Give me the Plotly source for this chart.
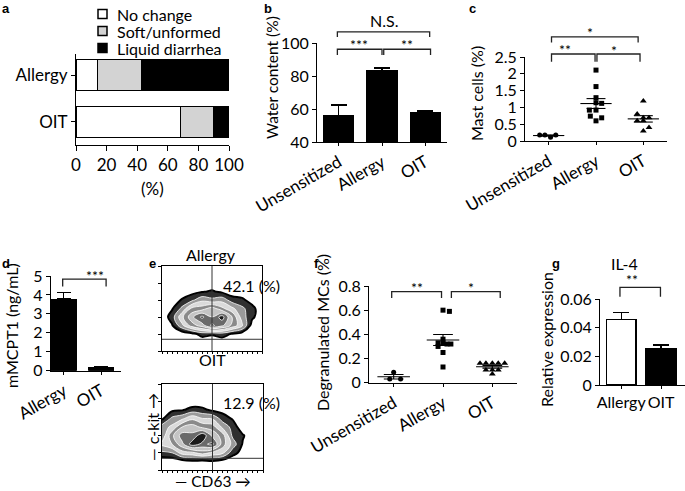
import plotly.graph_objects as go
import numpy as np

W, H = 685, 491
FONT = "Lato"

# ---------------- data ----------------
a_groups = ["Allergy", "OIT"]
a_series = ["No change", "Soft/unformed", "Liquid diarrhea"]
a_no_change = [14, 68]
a_soft = [29, 22]
a_liquid = [57, 10]
a_ticks = [0, 20, 40, 60, 80, 100]

b_groups = ["Unsensitized", "Allergy", "OIT"]
b_water = [56, 83.5, 58]
b_err = [6.4, 1.3, 0.8]

c_groups = ["Unsensitized", "Allergy", "OIT"]
c_unsens = [0.18, 0.18, 0.11, 0.18]
c_unsens_off = [-0.19, -0.08, 0.04, 0.15]
c_allergy = [2.11, 1.62, 1.29, 1.14, 1.12, 0.92, 0.92, 0.74, 0.69, 0.60]
c_allergy_off = [0, 0, 0, 0, 0.12, -0.14, 0, -0.12, 0.12, 0]
c_oit = [1.19, 0.80, 0.69, 0.69, 0.60, 0.60, 0.40, 0.30]
c_oit_off = [0, -0.13, 0, 0.12, -0.13, 0, 0.12, 0]

d_groups = ["Allergy", "OIT"]
d_mmcpt1 = [3.78, 0.16]
d_err = [0.35, 0.04]

e_grid = [0, 10, 20, 30, 40, 50, 60, 70, 80, 90, 100]
e_allergy_z = [
    [0, 0, 0, 0, 0, 0, 0, 0, 0, 0, 0],
    [0, 0, 0, 0, 0, 0, 0, 0, 0, 0, 0],
    [0, 0, 0, 0.3, 0.9, 0.7, 1.0, 0.5, 0.2, 0, 0],
    [0, 0.5, 2.0, 3.4, 4.2, 5.6, 4.8, 3.6, 2.4, 0.2, 0],
    [0, 1.0, 2.8, 4.4, 5.6, 4.6, 5.8, 3.8, 1.8, 0.8, 0],
    [0, 0.5, 1.6, 3.2, 3.4, 4.2, 3.2, 2.4, 1.6, 0.9, 0],
    [0, 0, 0.7, 1.2, 2.0, 1.6, 1.9, 1.0, 0.8, 0.2, 0],
    [0, 0, 0, 0.3, 0.5, 0.7, 0.4, 0.1, 0, 0, 0],
    [0, 0, 0, 0, 0, 0, 0, 0, 0, 0, 0],
    [0, 0, 0, 0, 0, 0, 0, 0, 0, 0, 0],
    [0, 0, 0, 0, 0, 0, 0, 0, 0, 0, 0],
]
e_oit_z = [
    [0, 0, 0, 0, 0, 0, 0, 0, 0, 0, 0],
    [0, 0, 0.2, 0.4, 0.3, 0.5, 0.2, 0, 0, 0, 0],
    [1.2, 1.4, 2.6, 2.8, 3.4, 2.8, 2.4, 0.9, 0.3, 0, 0],
    [2.4, 3.0, 4.4, 5.8, 5.2, 5.6, 3.4, 1.9, 0.5, 0, 0],
    [1.6, 3.6, 5.0, 4.8, 6.0, 4.4, 3.4, 1.2, 0.7, 0, 0],
    [1.8, 2.4, 3.8, 4.2, 3.6, 3.4, 2.0, 1.1, 0, 0, 0],
    [0.4, 1.6, 2.0, 2.8, 2.2, 2.1, 1.0, 0.5, 0, 0, 0],
    [0, 0.4, 0.5, 0.9, 0.8, 0.4, 0.3, 0, 0, 0, 0],
    [0, 0, 0, 0, 0, 0, 0, 0, 0, 0, 0],
    [0, 0, 0, 0, 0, 0, 0, 0, 0, 0, 0],
    [0, 0, 0, 0, 0, 0, 0, 0, 0, 0, 0],
]
e_gate_x = 50
e_gate_y = [13.8, 13.6]
e_labels = ["Allergy", "OIT"]
e_pct = ["42.1 (%)", "12.9 (%)"]

f_groups = ["Unsensitized", "Allergy", "OIT"]
f_unsens = [0.086, 0.03, 0.03]
f_unsens_off = [0, -0.08, 0.14]
f_allergy = [0.60, 0.59, 0.36, 0.33, 0.33, 0.32, 0.32, 0.30, 0.25, 0.13]
f_allergy_off = [0, 0.13, 0, -0.1, 0.0, 0.08, 0.16, -0.1, 0, 0]
f_oit = [0.16, 0.16, 0.16, 0.16, 0.16, 0.105, 0.105, 0.105, 0.072]
f_oit_off = [-0.25, -0.13, 0, 0.12, 0.25, -0.13, 0, 0.12, 0]

g_groups = ["Allergy", "OIT"]
g_il4 = [0.046, 0.0252]
g_err = [0.0046, 0.0028]

# ---------------- geometry (pixel domains) ----------------
P = {
    "a": dict(x="x", y="y", xd=(76, 229), yd=(54, 145), xr=[0, 100], yr=[-0.5, 1.46]),
    "b": dict(x="x2", y="y2", xd=(317, 447), yd=(43, 142), xr=[-0.5, 2.5], yr=[40, 100]),
    "c": dict(x="x3", y="y3", xd=(525, 667), yd=(57, 141), xr=[-0.5, 2.5], yr=[0, 2.5]),
    "d": dict(x="x4", y="y4", xd=(50.7, 120.7), yd=(276, 370.7), xr=[-0.35, 1.52], yr=[0, 5]),
    "e1": dict(x="x5", y="y5", xd=(162, 262), yd=(266, 351), xr=[0, 100], yr=[0, 100]),
    "e2": dict(x="x6", y="y6", xd=(162, 263), yd=(384, 470), xr=[0, 100], yr=[0, 100]),
    "f": dict(x="x7", y="y7", xd=(369, 517), yd=(286, 382.7), xr=[-0.5, 2.5], yr=[0, 0.8]),
    "g": dict(x="x8", y="y8", xd=(600, 685), yd=(299.3, 385), xr=[-0.53, 1.6], yr=[0, 0.06]),
}


def xdom(p):
    return [p["xd"][0] / W, p["xd"][1] / W]


def ydom(p):
    return [1 - p["yd"][1] / H, 1 - p["yd"][0] / H]


def to_paper(p, xv, yv):
    x0, x1 = xdom(p)
    y0, y1 = ydom(p)
    px = x0 + (xv - p["xr"][0]) / (p["xr"][1] - p["xr"][0]) * (x1 - x0)
    py = y0 + (yv - p["yr"][0]) / (p["yr"][1] - p["yr"][0]) * (y1 - y0)
    return px, py


fig = go.Figure()
shapes = []
annotations = []


def ann(text, xpx, ypx, size=16, angle=0, family=FONT, xanchor="center", bold=False):
    if bold:
        text = "<b>" + text + "</b>"
    annotations.append(dict(text=text, x=xpx / W, y=1 - ypx / H, xref="paper", yref="paper",
                            showarrow=False, textangle=angle, xanchor=xanchor, yanchor="middle",
                            font=dict(family=family, size=size, color="black")))


def bracket(p, xa, xb, ytop, yleg):
    ax, ay = to_paper(p, xa, ytop)
    bx, _ = to_paper(p, xb, ytop)
    _, ly = to_paper(p, xa, yleg)
    path = f"M{ax},{ly} L{ax},{ay} L{bx},{ay} L{bx},{ly}"
    shapes.append(dict(type="path", path=path, xref="paper", yref="paper",
                       line=dict(color="#222", width=1.3)))


def star(p, text, xv, yv, size=14):
    px, py = to_paper(p, xv, yv)
    annotations.append(dict(text=text, x=px, y=py, xref="paper", yref="paper", showarrow=False,
                            font=dict(family=FONT, size=size, color="black"), yanchor="middle"))


# ---------------- panel a ----------------
pa = P["a"]
for name, vals, col in zip(a_series, [a_no_change, a_soft, a_liquid], ["white", "#d3d3d3", "black"]):
    fig.add_trace(go.Bar(x=vals, y=a_groups, orientation="h", marker=dict(color=col, line=dict(color="black", width=1)),
                         width=0.67, xaxis=pa["x"], yaxis=pa["y"], name=name))
leg_y = [14, 31, 48]
for name, col, yy in zip(a_series, ["white", "#d3d3d3", "black"], leg_y):
    shapes.append(dict(type="rect", xref="paper", yref="paper", x0=98 / W, x1=107 / W,
                       y0=1 - (yy + 4.5) / H, y1=1 - (yy - 4.5) / H, fillcolor=col,
                       line=dict(color="black", width=1.5)))
    ann(name, 115, yy, size=16, xanchor="left")
ann("(%)", 152, 188, size=17)

# ---------------- panel b ----------------
pb = P["b"]
fig.add_trace(go.Bar(x=[0, 1, 2], y=b_water, width=0.7, marker=dict(color="black", line=dict(color="black", width=1)),
                     error_y=dict(type="data", array=b_err, arrayminus=[0] * 3, symmetric=False, color="black",
                                  thickness=1.3, width=8),
                     xaxis=pb["x"], yaxis=pb["y"]))
bracket(pb, -0.03, 1.0, 96.2, 92.7)
bracket(pb, 1.04, 2.12, 96.2, 92.7)
bracket(pb, -0.03, 2.1, 106.7, 103.6)
star(pb, "***", 0.48, 99.0)
star(pb, "**", 1.58, 99.0)
star(pb, "N.S.", 1.05, 113.9, size=16)
ann("Water content (%)", 272, 78, size=15.5, angle=-90)


# ---------------- panels c and f (dot plots) ----------------
def dotplot(p, groups_vals, groups_off, symbols, sizes):
    for i, (vals, offs, sym, sz) in enumerate(zip(groups_vals, groups_off, symbols, sizes)):
        fig.add_trace(go.Scatter(x=[i + o for o in offs], y=vals, mode="markers",
                                 marker=dict(symbol=sym, size=sz, color="black"),
                                 xaxis=p["x"], yaxis=p["y"], cliponaxis=False))
    lx, ly = [], []
    for i, vals in enumerate(groups_vals):
        v = np.array(vals)
        m = v.mean()
        s = v.std(ddof=1) / np.sqrt(len(v))
        lx += [i - 0.33, i + 0.33, None, i - 0.2, i + 0.2, None, i - 0.2, i + 0.2, None, i, i, None]
        ly += [m, m, None, m + s, m + s, None, m - s, m - s, None, m - s, m + s, None]
    fig.add_trace(go.Scatter(x=lx, y=ly, mode="lines", line=dict(color="black", width=1.1),
                             xaxis=p["x"], yaxis=p["y"]))


pc = P["c"]
dotplot(pc, [c_unsens, c_allergy, c_oit], [c_unsens_off, c_allergy_off, c_oit_off],
        ["circle", "square", "triangle-up"], [5, 5, 6])
bracket(pc, 0.06, 0.98, 2.59, 2.36)
bracket(pc, 1.02, 1.93, 2.59, 2.36)
bracket(pc, 0.06, 1.89, 3.1, 2.93)
star(pc, "**", 0.52, 2.72)
star(pc, "*", 1.48, 2.70)
star(pc, "*", 0.98, 3.22)
ann("Mast cells (%)", 477, 94, size=16, angle=-90)

pf = P["f"]
dotplot(pf, [f_unsens, f_allergy, f_oit], [f_unsens_off, f_allergy_off, f_oit_off],
        ["circle", "square", "triangle-up"], [5, 5, 6])
bracket(pf, -0.04, 0.97, 0.753, 0.70)
bracket(pf, 1.17, 2.16, 0.753, 0.70)
star(pf, "**", 0.47, 0.79)
star(pf, "*", 1.66, 0.79)
ann("Degranulated MCs (%)", 322, 333, size=16, angle=-90)

# ---------------- panel d ----------------
pd_ = P["d"]
fig.add_trace(go.Bar(x=[0, 1], y=d_mmcpt1, width=0.67, marker=dict(color="black", line=dict(color="black", width=1)),
                     error_y=dict(type="data", array=d_err, arrayminus=[0, 0], symmetric=False, color="black",
                                  thickness=1.3, width=7),
                     xaxis=pd_["x"], yaxis=pd_["y"]))
bracket(pd_, -0.03, 1.13, 4.84, 4.44)
star(pd_, "***", 0.55, 5.05)
ann("mMCPT1 (ng/mL)", 11, 326, size=16, angle=-90)

# ---------------- panel e ----------------
cscale = [[0, "white"], [1 / 7, "#303030"], [2 / 7, "#9a9a9a"], [3 / 7, "#dadada"], [4 / 7, "#8a8a8a"],
          [5 / 7, "#c4c4c4"], [6 / 7, "#6a6a6a"], [1, "#1a1a1a"]]
for key, z, gy in zip(["e1", "e2"], [e_allergy_z, e_oit_z], e_gate_y):
    p = P[key]
    fig.add_trace(go.Contour(x=e_grid, y=e_grid, z=z, colorscale=cscale, showscale=False,
                             contours=dict(start=0.6, end=5.5, size=0.8, coloring="fill"),
                             line=dict(color="white", width=0.8, smoothing=1.0),
                             xaxis=p["x"], yaxis=p["y"], hoverinfo="skip"))
    fig.add_trace(go.Contour(x=e_grid, y=e_grid, z=z, showscale=False,
                             contours=dict(start=0.6, end=0.6, size=1, coloring="none"),
                             line=dict(color="black", width=2, smoothing=1.0),
                             xaxis=p["x"], yaxis=p["y"], hoverinfo="skip"))
    shapes.append(dict(type="line", xref=p["x"], yref=p["y"], x0=e_gate_x, x1=e_gate_x, y0=0, y1=100,
                       line=dict(color="#333", width=1)))
    shapes.append(dict(type="line", xref=p["x"], yref=p["y"], x0=0, x1=100, y0=gy, y1=gy,
                       line=dict(color="#333", width=1)))
ann(e_labels[0], 211, 254, size=16)
ann(e_labels[1], 212, 359, size=16)
ann(e_pct[0], 251, 285, size=16)
ann(e_pct[1], 251, 402, size=16)
ann("— c-kit →", 152, 427, size=16, angle=-90)
ann("— CD63 →", 213, 481, size=15.5)

# ---------------- panel g ----------------
pg = P["g"]
fig.add_trace(go.Bar(x=[0, 1], y=g_il4, width=0.75,
                     marker=dict(color=["white", "black"], line=dict(color="black", width=1.3)),
                     error_y=dict(type="data", array=g_err, arrayminus=[0, 0], symmetric=False, color="black",
                                  thickness=1.3, width=8),
                     xaxis=pg["x"], yaxis=pg["y"]))
bracket(pg, -0.03, 0.985, 0.0684, 0.0618)
star(pg, "**", 0.48, 0.0738)
star(pg, "IL-4", 0.48, 0.0852, size=16)
ann("Relative expression", 546, 340, size=16, angle=-90)

# ---------------- panel labels ----------------
for lab, xx, yy in [("a", 6, 8), ("b", 268, 8), ("c", 472, 8), ("d", 6, 263), ("e", 152, 263),
                    ("f", 316, 263), ("g", 556, 263)]:
    ann(lab, xx, yy, size=13, family="Liberation Sans", bold=True)

# ---------------- axes ----------------
base = dict(showline=True, linecolor="black", linewidth=1, ticks="outside", ticklen=4, tickcolor="black",
            showgrid=False, zeroline=False, tickfont=dict(family=FONT, size=16, color="black"),
            fixedrange=True, automargin=False)
layout_axes = {}


def set_axes(key, xextra, yextra):
    p = P[key]
    xn = "xaxis" + p["x"][1:]
    yn = "yaxis" + p["y"][1:]
    xa = dict(base, domain=xdom(p), range=p["xr"], anchor=p["y"])
    xa.update(xextra)
    ya = dict(base, domain=ydom(p), range=p["yr"], anchor=p["x"])
    ya.update(yextra)
    layout_axes[xn] = xa
    layout_axes[yn] = ya


f17 = dict(family=FONT, size=17, color="black")
set_axes("a", dict(tickvals=a_ticks, tickfont=f17, ticklen=5),
         dict(type="category", categoryarray=["OIT", "Allergy"], tickfont=f17))
set_axes("b", dict(tickvals=[0, 1, 2], ticktext=b_groups, tickangle=-30, ticklen=3, tickfont=f17),
         dict(tickvals=[40, 60, 80, 100]))
set_axes("c", dict(tickvals=[0, 1, 2], ticktext=c_groups, tickangle=-30, ticklen=3, tickfont=f17),
         dict(dtick=0.5, tick0=0))
set_axes("d", dict(tickvals=[0, 1], ticktext=d_groups, tickangle=-30, ticklen=3, tickfont=f17),
         dict(dtick=1, tick0=0))
for k in ["e1", "e2"]:
    set_axes(k, dict(mirror=True, showticklabels=False, dtick=5, ticklen=2),
             dict(mirror=True, showticklabels=False, dtick=20, ticklen=3))
set_axes("f", dict(tickvals=[0, 1, 2], ticktext=f_groups, tickangle=-30, ticklen=3, tickfont=f17),
         dict(dtick=0.2, tick0=0))
set_axes("g", dict(tickvals=[0, 1], ticktext=g_groups, tickangle=0, ticklen=3),
         dict(tickvals=[0, 0.02, 0.04, 0.06], ticktext=["0", "0.02", "0.04", "0.06"]))

fig.update_layout(width=W, height=H, margin=dict(l=0, r=0, t=0, b=0, autoexpand=False), paper_bgcolor="white",
                  plot_bgcolor="white", barmode="stack", shapes=shapes, annotations=annotations,
                  showlegend=False, font=dict(family=FONT, color="black"), **layout_axes)
fig.write_html("out.html", config={"displayModeBar": False},
               post_script="document.body.style.margin='0px';document.body.style.overflow='hidden';")
